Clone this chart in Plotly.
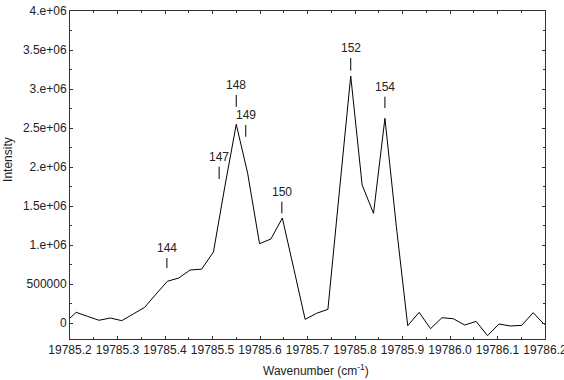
import plotly.graph_objects as go

wavenumber = [19785.189, 19785.213, 19785.237, 19785.261, 19785.285, 19785.309, 19785.333,
              19785.357, 19785.381, 19785.405, 19785.429, 19785.453, 19785.477, 19785.502,
              19785.526, 19785.550, 19785.574, 19785.599, 19785.623, 19785.647, 19785.671,
              19785.695, 19785.719, 19785.743, 19785.767, 19785.791, 19785.815, 19785.839,
              19785.863, 19785.887, 19785.911, 19785.935, 19785.959, 19785.983, 19786.007,
              19786.031, 19786.055, 19786.079, 19786.103, 19786.127, 19786.151, 19786.175,
              19786.199]
intensity = [0.0, 0.137e6, 0.085e6, 0.035e6, 0.064e6, 0.030e6, 0.115e6,
             0.20e6, 0.37e6, 0.535e6, 0.577e6, 0.68e6, 0.69e6, 0.91e6,
             1.75e6, 2.547e6, 1.92e6, 1.017e6, 1.077e6, 1.346e6, 0.70e6,
             0.047e6, 0.124e6, 0.175e6, 1.68e6, 3.167e6, 1.77e6, 1.406e6,
             2.624e6, 1.24e6, -0.034e6, 0.137e6, -0.073e6, 0.068e6, 0.055e6,
             -0.026e6, 0.021e6, -0.162e6, -0.013e6, -0.038e6, -0.030e6, 0.132e6,
             -0.02e6]

peak_labels = ["144", "147", "148", "149", "150", "152", "154"]
peak_x = [19785.404, 19785.514, 19785.550, 19785.570, 19785.646, 19785.791, 19785.863]
peak_mark_bottom = [0.705e6, 1.846e6, 2.773e6, 2.388e6, 1.406e6, 3.235e6, 2.756e6]
peak_mark_top = [0.833e6, 2.004e6, 2.923e6, 2.538e6, 1.555e6, 3.397e6, 2.901e6]

x_tickvals = [19785.2, 19785.3, 19785.4, 19785.5, 19785.6, 19785.7, 19785.8, 19785.9,
              19786.0, 19786.1, 19786.2]
x_ticktext = ["19785.2", "19785.3", "19785.4", "19785.5", "19785.6", "19785.7", "19785.8",
              "19785.9", "19786.0", "19786.1", "19786.2"]
y_tickvals = [0, 0.5e6, 1.0e6, 1.5e6, 2.0e6, 2.5e6, 3.0e6, 3.5e6, 4.0e6]
y_ticktext = ["0", "500000", "1.e+06", "1.5e+06", "2.e+06", "2.5e+06", "3.e+06", "3.5e+06", "4.e+06"]

FONT = "Liberation Sans, Arial, sans-serif"
TXT = "#222222"
FS = 12

fig = go.Figure()
fig.add_trace(go.Scatter(x=wavenumber, y=intensity, mode="lines",
                         line=dict(color="black", width=1), hoverinfo="skip",
                         showlegend=False))

for lab, px, yb, yt in zip(peak_labels, peak_x, peak_mark_bottom, peak_mark_top):
    fig.add_shape(type="line", x0=px, x1=px, y0=yb, y1=yt, xref="x", yref="y",
                  line=dict(color="black", width=1))
    fig.add_annotation(x=px, y=yt, xref="x", yref="y", text=lab, showarrow=False,
                       yanchor="bottom", yshift=1, font=dict(size=FS, color=TXT, family=FONT))

axis_common = dict(showline=True, linecolor="#333333", linewidth=1, mirror="ticks",
                   ticks="inside", ticklen=3, tickcolor="#333333", showgrid=False,
                   zeroline=False, automargin=False, tickangle=0,
                   ticklabeloverflow="allow",
                   tickfont=dict(size=FS, color=TXT, family=FONT))

fig.update_xaxes(range=[19785.2, 19786.2], tickmode="array", tickvals=x_tickvals,
                 ticktext=x_ticktext,
                 minor=dict(ticks="inside", ticklen=2, dtick=0.05, tick0=19785.2,
                            tickcolor="#333333", showgrid=False),
                 **axis_common)
fig.update_yaxes(range=[-0.205e6, 4.0e6], tickmode="array", tickvals=y_tickvals,
                 ticktext=y_ticktext,
                 minor=dict(ticks="inside", ticklen=2, dtick=0.25e6, tick0=0,
                            tickcolor="#333333", showgrid=False),
                 **axis_common)

fig.add_annotation(x=-0.1305, y=0.546, xref="paper", yref="paper", text="Intensity",
                   textangle=-90, showarrow=False, xanchor="center", yanchor="middle",
                   font=dict(size=FS, color=TXT, family=FONT))
fig.add_annotation(x=0.518, y=-0.0945, xref="paper", yref="paper",
                   text="Wavenumber (cm<sup>-1</sup>)", showarrow=False,
                   xanchor="center", yanchor="middle",
                   font=dict(size=FS, color=TXT, family=FONT))

fig.update_layout(width=564, height=380, margin=dict(l=70, r=19, t=11, b=41),
                  paper_bgcolor="white", plot_bgcolor="white",
                  font=dict(family=FONT, color=TXT))

fig.write_html("out.html", config={"displayModeBar": False},
               post_script="document.body.style.margin='0';document.body.style.overflow='hidden';")
